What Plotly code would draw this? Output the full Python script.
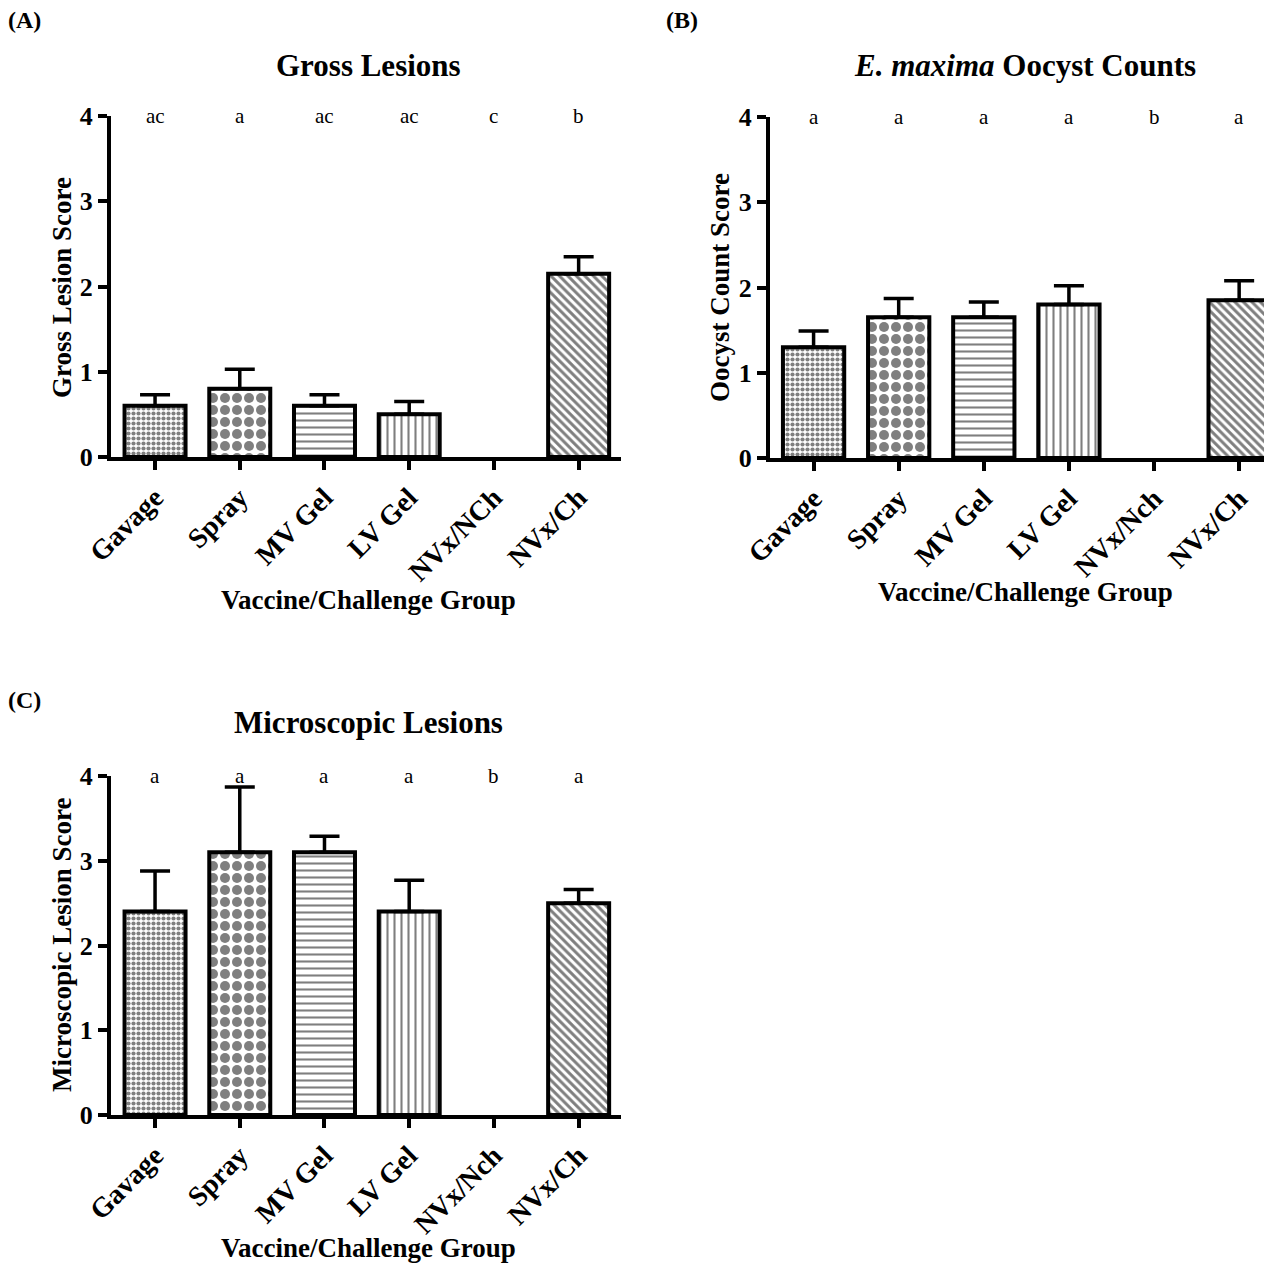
import plotly.graph_objects as go

# ---------------- data ----------------
groups_a = ["Gavage", "Spray", "MV Gel", "LV Gel", "NVx/NCh", "NVx/Ch"]
groups_b = ["Gavage", "Spray", "MV Gel", "LV Gel", "NVx/Nch", "NVx/Ch"]
groups_c = ["Gavage", "Spray", "MV Gel", "LV Gel", "NVx/Nch", "NVx/Ch"]

gross_mean = [0.6, 0.8, 0.6, 0.5, 0.0, 2.15]
gross_sem = [0.13, 0.23, 0.13, 0.15, None, 0.2]
gross_letters = ["ac", "a", "ac", "ac", "c", "b"]

oocyst_mean = [1.3, 1.65, 1.65, 1.8, 0.0, 1.85]
oocyst_sem = [0.19, 0.22, 0.18, 0.22, None, 0.23]
oocyst_letters = ["a", "a", "a", "a", "b", "a"]

micro_mean = [2.4, 3.1, 3.1, 2.4, 0.0, 2.5]
micro_sem = [0.48, 0.77, 0.19, 0.37, None, 0.16]
micro_letters = ["a", "a", "a", "a", "b", "a"]

y_ticks = [0, 1, 2, 3, 4]

# ---------------- styling ----------------
W, H = 1272, 1263
OFF = 8  # page body margin compensation
FONT = "Liberation Serif, Times New Roman, serif"
pat_shapes = [".", ".", "-", "|", "", "\\"]
pat_sizes = [5, 12, 7, 7, 7, 6]
pat_solid = [0.55, 0.55, 0.3, 0.3, 0.3, 0.5]


def px_x(p):
    return (p - OFF) / W


def px_y(p):
    return 1 - (p - OFF) / H


fig = go.Figure()

panels = [
    (gross_mean, gross_sem, gross_letters, groups_a, "x", "y"),
    (oocyst_mean, oocyst_sem, oocyst_letters, groups_b, "x2", "y2"),
    (micro_mean, micro_sem, micro_letters, groups_c, "x3", "y3"),
]

for means, sems, letters, labels, xa, ya in panels:
    xs = list(range(len(means)))
    outline = [4 if m > 0 else 0 for m in means]
    fig.add_trace(go.Bar(
        x=xs, y=means, width=0.72, xaxis=xa, yaxis=ya,
        marker=dict(
            color="white",
            line=dict(color="black", width=outline),
            pattern=dict(shape=pat_shapes, size=pat_sizes, solidity=pat_solid,
                         fgcolor="black", bgcolor="white"),
        ),
        showlegend=False, hoverinfo="skip",
    ))
    # upward-only error bars for groups that have them
    ex = [x for x, s in zip(xs, sems) if s is not None]
    ey = [m for m, s in zip(means, sems) if s is not None]
    es = [s for s in sems if s is not None]
    fig.add_trace(go.Scatter(
        x=ex, y=ey, xaxis=xa, yaxis=ya, mode="markers",
        marker=dict(size=1, color="rgba(0,0,0,0)"),
        error_y=dict(type="data", array=es, arrayminus=[0] * len(es),
                     symmetric=False, color="black", thickness=3.5, width=15),
        showlegend=False, hoverinfo="skip",
    ))
    for xi, lt in zip(xs, letters):
        fig.add_annotation(x=xi, y=4, xref=xa, yref=ya, text=lt,
                           showarrow=False, yanchor="middle",
                           font=dict(family=FONT, size=21, color="black"))

axis_common = dict(
    showline=True, linecolor="black", linewidth=4, mirror=False,
    ticks="outside", ticklen=9, tickwidth=3.5, tickcolor="black",
    showgrid=False, zeroline=False, fixedrange=True, automargin=False,
)

xdomA = [px_x(111), px_x(621)]
xdomB = [px_x(770), px_x(1280)]
ydomA = [px_y(457), px_y(116)]
ydomB = [px_y(458), px_y(117)]
ydomC = [px_y(1115), px_y(776)]

xt = dict(tickvals=list(range(6)), tickangle=-45,
          tickfont=dict(family=FONT, size=28, color="black", weight="bold"))
yt = dict(tickvals=y_ticks, range=[0, 4],
          tickfont=dict(family=FONT, size=26, color="black", weight="bold"))

fig.update_layout(
    width=W, height=H, autosize=False,
    margin=dict(l=0, r=0, t=0, b=0, pad=0, autoexpand=False),
    paper_bgcolor="white", plot_bgcolor="white",
    font=dict(family=FONT, color="black"),
    bargap=0.28,
    xaxis=dict(domain=xdomA, anchor="y", range=[-0.52, 5.5],
               ticktext=groups_a, **xt, **axis_common),
    yaxis=dict(domain=ydomA, anchor="x", **yt, **axis_common),
    xaxis2=dict(domain=xdomB, anchor="y2", range=[-0.512, 5.48],
                ticktext=groups_b, **xt, **axis_common),
    yaxis2=dict(domain=ydomB, anchor="x2", **yt, **axis_common),
    xaxis3=dict(domain=xdomA, anchor="y3", range=[-0.52, 5.5],
                ticktext=groups_c, **xt, **axis_common),
    yaxis3=dict(domain=ydomC, anchor="x3", **yt, **axis_common),
)


def paper_text(x, y, text, size, angle=0, xanchor="center"):
    fig.add_annotation(x=px_x(x), y=px_y(y), xref="paper", yref="paper",
                       text=text, showarrow=False, textangle=angle,
                       xanchor=xanchor, yanchor="middle",
                       font=dict(family=FONT, size=size, color="black"))


# panel letters
paper_text(6, 20, "<b>(A)</b>", 24, xanchor="left")
paper_text(664, 20, "<b>(B)</b>", 24, xanchor="left")
paper_text(6, 700, "<b>(C)</b>", 24, xanchor="left")

# titles
paper_text(368, 65, "<b>Gross Lesions</b>", 31)
paper_text(1025, 65, "<b><i>E. maxima</i> Oocyst Counts</b>", 31)
paper_text(368, 722, "<b>Microscopic Lesions</b>", 31)

# y-axis titles
paper_text(62, 288, "<b>Gross Lesion Score</b>", 27, angle=-90)
paper_text(720, 288, "<b>Oocyst Count Score</b>", 27, angle=-90)
paper_text(62, 945, "<b>Microscopic Lesion Score</b>", 27, angle=-90)

# x-axis titles
paper_text(368, 600, "<b>Vaccine/Challenge Group</b>", 27)
paper_text(1025, 592, "<b>Vaccine/Challenge Group</b>", 27)
paper_text(368, 1248, "<b>Vaccine/Challenge Group</b>", 27)

fig.write_html("out.html")
